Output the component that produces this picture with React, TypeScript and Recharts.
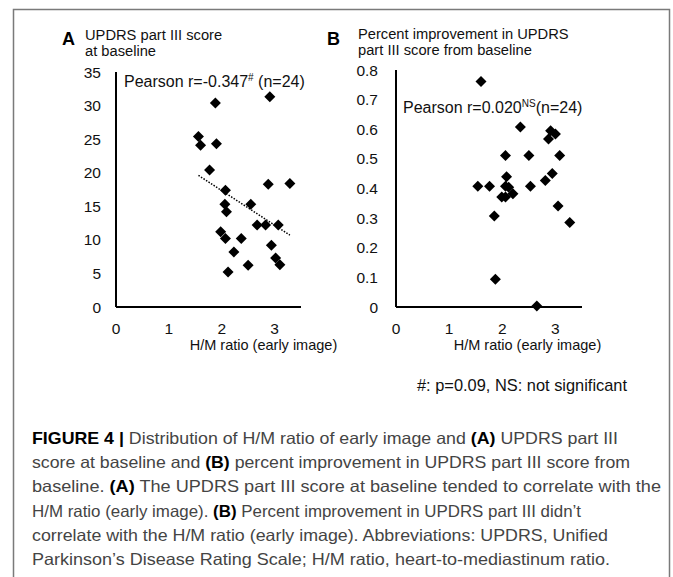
import React from "react";
import { ScatterChart, Scatter, XAxis, YAxis, ReferenceLine } from "recharts";

// H/M ratio (early image) vs UPDRS part III score at baseline
const hmA = [1.88, 2.91, 1.56, 1.6, 1.9, 1.77, 2.88, 3.29, 2.07, 2.06, 2.09, 2.55, 2.67, 2.83, 3.07, 1.98, 2.07, 2.37, 2.94, 2.23, 3.02, 3.1, 2.5, 2.12];
const updrsA = [30.4, 31.3, 25.4, 24.1, 24.3, 20.4, 18.3, 18.4, 17.4, 15.3, 14.2, 15.3, 12.2, 12.2, 12.2, 11.2, 10.2, 10.2, 9.2, 8.2, 7.3, 6.3, 6.2, 5.2];

// H/M ratio (early image) vs percent improvement
const hmB = [1.6, 2.34, 2.91, 3.0, 2.87, 2.06, 2.5, 3.08, 2.94, 2.08, 2.81, 1.54, 1.76, 2.06, 2.12, 2.53, 2.2, 1.99, 2.06, 3.05, 1.85, 3.27, 1.87, 2.65];
const improveB = [0.761, 0.608, 0.595, 0.584, 0.567, 0.511, 0.511, 0.511, 0.451, 0.44, 0.427, 0.408, 0.408, 0.408, 0.404, 0.408, 0.382, 0.371, 0.371, 0.341, 0.307, 0.285, 0.094, 0.003];

// dotted trend line in panel A (end points)
const trendX = [1.56, 3.29];
const trendY = [19.6, 10.7];

const xTicks = [0, 1, 2, 3];
const yTicksA = [0, 5, 10, 15, 20, 25, 30, 35];
const yTicksB = [0, 0.1, 0.2, 0.3, 0.4, 0.5, 0.6, 0.7, 0.8];

const captionLines: [string, boolean][][] = [
  [["FIGURE 4 | ", true], ["Distribution of H/M ratio of early image and ", false], ["(A)", true], [" UPDRS part III", false]],
  [["score at baseline and ", false], ["(B)", true], [" percent improvement in UPDRS part III score from", false]],
  [["baseline. ", false], ["(A)", true], [" The UPDRS part III score at baseline tended to correlate with the", false]],
  [["H/M ratio (early image). ", false], ["(B)", true], [" Percent improvement in UPDRS part III didn\u2019t", false]],
  [["correlate with the H/M ratio (early image). Abbreviations: UPDRS, Unified", false]],
  [["Parkinson\u2019s Disease Rating Scale; H/M ratio, heart-to-mediastinum ratio.", false]],
];
const captionWidths = [586, 598, 629, 549, 576, 578];

const FONT = "'Liberation Sans', Arial, sans-serif";

const dataA = hmA.map((x, i) => ({ x, y: updrsA[i] }));
const dataB = hmB.map((x, i) => ({ x, y: improveB[i] }));

function Diamond(props: any) {
  const { cx, cy } = props;
  const r = 5.5;
  return <path d={`M${cx},${cy - r}L${cx + r},${cy}L${cx},${cy + r}L${cx - r},${cy}Z`} fill="#000" />;
}

const axisLine = { stroke: "#000", strokeWidth: 2 };
const tickStyle = { fill: "#111", fontSize: 15.5, fontFamily: FONT };

export default function App() {
  return (
    <div style={{ position: "absolute", left: 0, top: 0, width: 673, height: 577, overflow: "hidden", background: "#fff" }}>
      <div style={{ position: "absolute", left: 0, top: 0 }}>
        <ScatterChart width={340} height={360} margin={{ top: 72, right: 39, bottom: 23, left: 0 }}>
          <XAxis type="number" dataKey="x" domain={[0, 3.5]} ticks={xTicks} height={30}
            axisLine={axisLine} tickLine={false} tickSize={0} tickMargin={16} tick={tickStyle} />
          <YAxis type="number" dataKey="y" domain={[0, 35]} ticks={yTicksA} width={116}
            axisLine={axisLine} tickLine={false} tickSize={0} tickMargin={15} tick={tickStyle} />
          <ReferenceLine
            segment={[{ x: trendX[0], y: trendY[0] }, { x: trendX[1], y: trendY[1] }]}
            stroke="#000" strokeWidth={1.5} strokeDasharray="1.5 1.5" />
          <Scatter data={dataA} shape={Diamond} isAnimationActive={false} />
        </ScatterChart>
      </div>
      <div style={{ position: "absolute", left: 340, top: 0 }}>
        <ScatterChart width={320} height={360} margin={{ top: 70, right: 78, bottom: 23, left: 0 }}>
          <XAxis type="number" dataKey="x" domain={[0, 3.5]} ticks={xTicks} height={30}
            axisLine={axisLine} tickLine={false} tickSize={0} tickMargin={16} tick={tickStyle} />
          <YAxis type="number" dataKey="y" domain={[0, 0.8]} ticks={yTicksB} width={56}
            axisLine={axisLine} tickLine={false} tickSize={0} tickMargin={18} tick={tickStyle} />
          <Scatter data={dataB} shape={Diamond} isAnimationActive={false} />
        </ScatterChart>
      </div>
      <svg width={673} height={577} style={{ position: "absolute", left: 0, top: 0, pointerEvents: "none" }} fontFamily={FONT}>
        <rect x={13.5} y={9.5} width={656} height={600} fill="none" stroke="#7a7a7a" strokeWidth={1.5} />

        {/* panel A headings */}
        <text x={62} y={45} fontSize={18} fontWeight="bold" fill="#000">A</text>
        <text x={85} y={39.5} fontSize={14.7} fill="#111">UPDRS part III score</text>
        <text x={85} y={55.5} fontSize={14.7} fill="#111">at baseline</text>
        <text x={124} y={87} fontSize={16} fill="#111">
          Pearson r=-0.347<tspan dy={-6} fontSize={10}>#</tspan><tspan dy={6}> (n=24)</tspan>
        </text>
        <text x={263.5} y={350} fontSize={14.5} fill="#111" textAnchor="middle">H/M ratio (early image)</text>

        {/* panel B headings */}
        <text x={327} y={45} fontSize={18} fontWeight="bold" fill="#000">B</text>
        <text x={358} y={38.5} fontSize={14.7} fill="#111">Percent improvement in UPDRS</text>
        <text x={358} y={54.5} fontSize={14.7} fill="#111">part III score from baseline</text>
        <text x={403} y={113} fontSize={16} fill="#111">
          Pearson r=0.020<tspan dy={-6} fontSize={10}>NS</tspan><tspan dy={6}>(n=24)</tspan>
        </text>
        <text x={527.5} y={350} fontSize={14.5} fill="#111" textAnchor="middle">H/M ratio (early image)</text>

        <text x={417} y={391} fontSize={16.4} fill="#111">#: p=0.09, NS: not significant</text>

        {/* caption */}
        {captionLines.map((parts, i) => (
          <text key={i} x={32} y={444 + i * 24.2} fontSize={16.5} fill="#444"
            textLength={captionWidths[i]} lengthAdjust="spacingAndGlyphs">
            {parts.map(([t, b], j) => (
              <tspan key={j} fontWeight={b ? "bold" : "normal"} fill={b ? "#000" : "#444"}>{t}</tspan>
            ))}
          </text>
        ))}
      </svg>
    </div>
  );
}
